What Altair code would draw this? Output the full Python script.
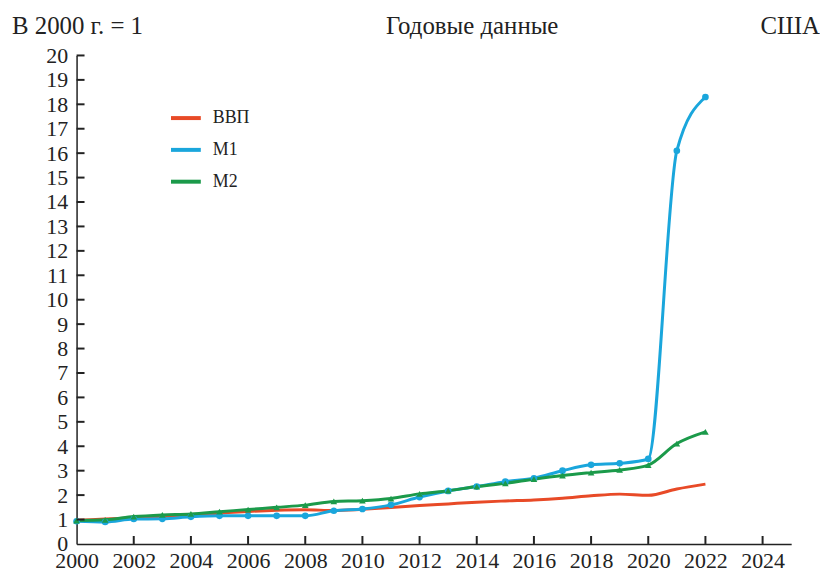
import altair as alt
import pandas as pd

years = list(range(2000, 2023))
gdp = [0.97, 1.02, 1.07, 1.12, 1.19, 1.26, 1.33, 1.38, 1.40, 1.37, 1.42, 1.49,
       1.57, 1.64, 1.71, 1.76, 1.80, 1.87, 1.97, 2.04, 1.99, 2.25, 2.45]
m1 = [0.93, 0.90, 1.02, 1.03, 1.11, 1.15, 1.15, 1.15, 1.15, 1.36, 1.43, 1.60,
      1.92, 2.17, 2.35, 2.55, 2.69, 3.00, 3.24, 3.30, 3.48, 16.10, 18.30]
m2 = [0.96, 0.99, 1.12, 1.19, 1.23, 1.32, 1.41, 1.50, 1.59, 1.74, 1.77, 1.86,
      2.05, 2.18, 2.35, 2.48, 2.65, 2.80, 2.92, 3.03, 3.23, 4.11, 4.59]
series_names = ["ВВП", "М1", "М2"]
series_colors = ["#e84a27", "#1aa6dc", "#1b9a4a"]
x_ticks = list(range(2000, 2025, 2))
y_ticks = list(range(0, 21))

rows = []
for name, vals in zip(series_names, [gdp, m1, m2]):
    for yr, v in zip(years, vals):
        rows.append({"year": yr, "value": v, "series": name})
df = pd.DataFrame(rows)

FONT = "Liberation Serif"
W, H = 719, 491.5

xscale = alt.Scale(domain=[2000, 2025], nice=False, zero=False)
yscale = alt.Scale(domain=[0, 20], nice=False)
cscale = alt.Scale(domain=series_names, range=series_colors)

xaxis = alt.Axis(values=x_ticks, format="d", title=None, ticks=False,
                 labelPadding=7, labelFont=FONT, labelFontSize=22,
                 labelColor="#222", grid=False, domainColor="#222",
                 domainWidth=1.5, labelFlush=False)
yaxis = alt.Axis(values=y_ticks, title=None, ticks=False,
                 labelPadding=9, labelFont=FONT, labelFontSize=22,
                 labelColor="#222", grid=False, domainColor="#222",
                 domainWidth=1.5)

lines = alt.Chart(df).mark_line(strokeWidth=3, interpolate="monotone").encode(
    x=alt.X("year:Q", scale=xscale, axis=xaxis),
    y=alt.Y("value:Q", scale=yscale, axis=yaxis),
    color=alt.Color("series:N", scale=cscale, sort=series_names,
                    legend=alt.Legend(title=None, orient="none", legendX=93,
                                      legendY=46, symbolType="stroke",
                                      symbolSize=900, symbolStrokeWidth=4,
                                      labelFont=FONT, labelFontSize=18,
                                      labelColor="#222", labelOffset=10,
                                      rowPadding=6)),
    order=alt.Order("series:N"),
)

pts_df = df[df["series"] != "ВВП"]
points = alt.Chart(pts_df).mark_point(filled=True, opacity=1, size=45).encode(
    x=alt.X("year:Q", scale=xscale, axis=xaxis),
    y=alt.Y("value:Q", scale=yscale, axis=yaxis),
    color=alt.Color("series:N", scale=cscale, legend=None),
    shape=alt.Shape("series:N", scale=alt.Scale(domain=["М1", "М2"],
                                                range=["circle", "triangle-up"]),
                    legend=None),
)

xt = pd.DataFrame({"xt": x_ticks[1:]})
xtick_layer = alt.Chart(xt).mark_rule(color="#222", strokeWidth=2).encode(
    x=alt.X("xt:Q", scale=xscale, axis=xaxis),
    y=alt.value(H), y2=alt.value(H - 8),
)
yt = pd.DataFrame({"yt": y_ticks[1:]})
ytick_layer = alt.Chart(yt).mark_rule(color="#222", strokeWidth=2).encode(
    y=alt.Y("yt:Q", scale=yscale, axis=yaxis),
    x=alt.value(0), x2=alt.value(8),
)

HF = 25
t1 = alt.Chart(pd.DataFrame({"t": ["В 2000 г. = 1"]})).mark_text(
    font=FONT, fontSize=HF, align="left", baseline="middle", color="#222").encode(
    x=alt.value(-65), y=alt.value(-30), text="t:N")
t2 = alt.Chart(pd.DataFrame({"t": ["Годовые данные"]})).mark_text(
    font=FONT, fontSize=HF, align="center", baseline="middle", color="#222").encode(
    x=alt.value(398), y=alt.value(-30), text="t:N")
t3 = alt.Chart(pd.DataFrame({"t": ["США"]})).mark_text(
    font=FONT, fontSize=HF, align="right", baseline="middle", color="#222").encode(
    x=alt.value(748), y=alt.value(-30), text="t:N")

chart = alt.layer(lines, points, xtick_layer, ytick_layer, t1, t2, t3).resolve_scale(
    shape="independent"
).properties(
    width=W, height=H,
    autosize=alt.AutoSizeParams(type="none"),
    padding={"left": 69, "top": 46, "right": 29, "bottom": 32},
    background="white",
).configure_view(stroke=None)

chart.save("out.html", embed_options={"renderer": "svg", "actions": False})
